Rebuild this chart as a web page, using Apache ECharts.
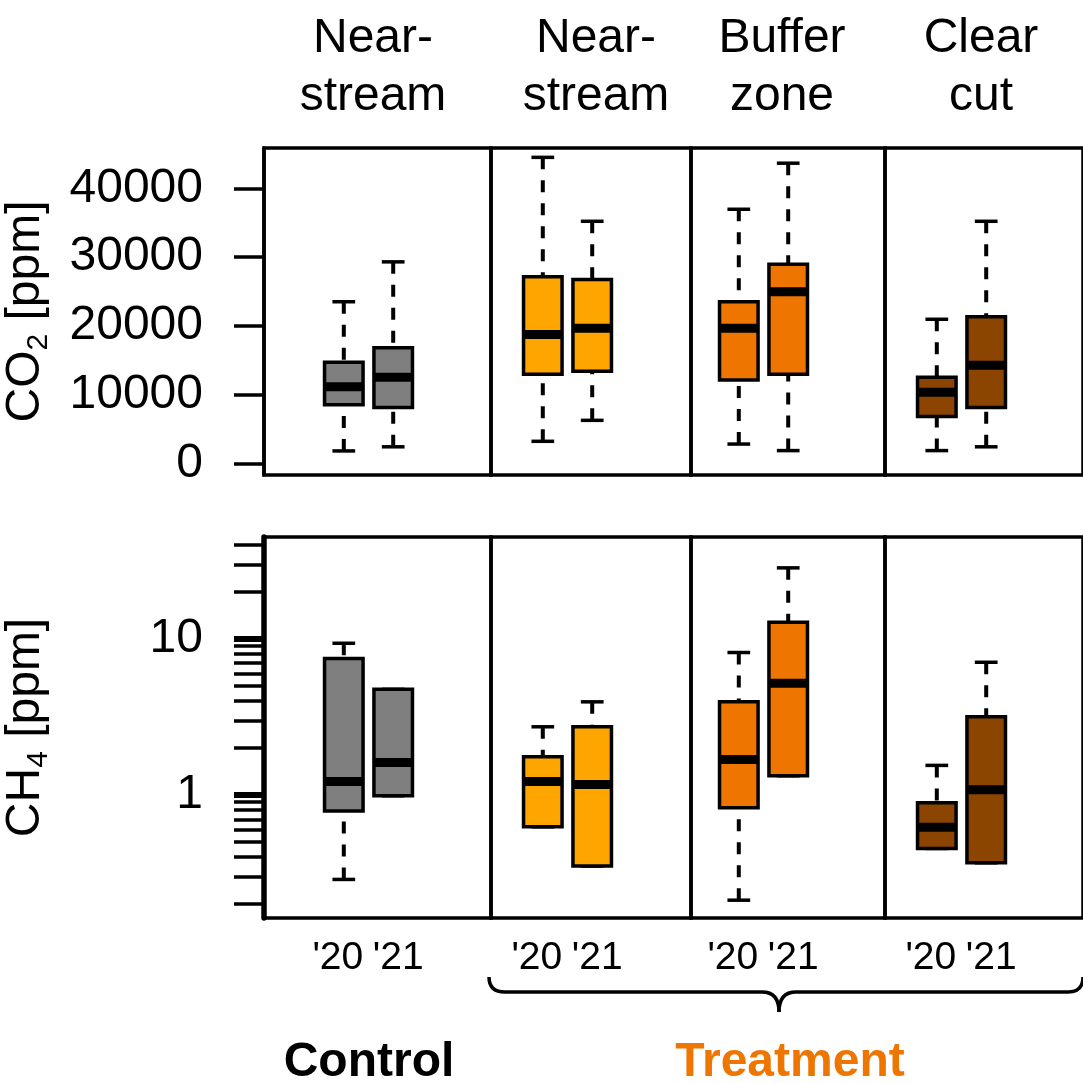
<!DOCTYPE html>
<html><head><meta charset="utf-8">
<script src="https://cdn.jsdelivr.net/npm/echarts@6/dist/echarts.min.js"></script>
<style>html,body{margin:0;padding:0;background:#fff}#c{width:1083px;height:1083px}</style>
</head><body><div id="c"></div>
<script>
// ---------- data ----------
const sites = ['Near-\nstream', 'Near-\nstream', 'Buffer\nzone', 'Clear\ncut'];
const years = ["'20", "'21"];
const groups = ['Control', 'Treatment'];
// each entry: [min, Q1, median, Q3, max] for '20 and '21
const co2ControlNS = [[1800, 8500, 11150, 14700, 23500], [2400, 8100, 12500, 16800, 29300]];
const co2TreatNS   = [[3200, 12950, 18750, 27150, 44500], [6250, 13400, 19650, 26750, 35200]];
const co2Buffer    = [[2800, 12100, 19650, 23500, 36950], [1850, 12950, 24950, 28950, 43650]];
const co2ClearCut  = [[1850, 6800, 10350, 12500, 20950], [2400, 8100, 14250, 21300, 35200]];
const ch4ControlNS = [[0.288, 0.79, 1.22, 7.5, 9.4], [0.99, 0.99, 1.62, 4.76, 4.76]];
const ch4TreatNS   = [[0.626, 0.626, 1.22, 1.76, 2.74], [0.351, 0.351, 1.17, 2.74, 3.96]];
const ch4Buffer    = [[0.212, 0.83, 1.69, 3.96, 8.2], [1.33, 1.33, 5.2, 12.8, 28.6]];
const ch4ClearCut  = [[0.455, 0.455, 0.621, 0.893, 1.55], [0.368, 0.368, 1.08, 3.18, 7.1]];
const co2TickValues = [0, 10000, 20000, 30000, 40000];
const ch4LabelValues = [1, 10];
const ch4TickValues = [0.2, 0.3, 0.4, 0.5, 0.6, 0.7, 0.8, 0.9, 1, 2, 3, 4, 5, 6, 7, 8, 9, 10, 20, 30, 40];

// ---------- styles / layout ----------
const siteColors = ['#7F7F7F', '#FFA500', '#EE7600', '#8B4500'];
const FONT = 'Liberation Sans, Arial, sans-serif';
const frameX = [264, 491, 691, 885, 1095];
const pairCenter = [368.5, 567.5, 763.5, 961.5];
const slot = 49.4;
const titleX = [373, 596, 782, 981];

const rows = [
  { top: 148, height: 327, data: [co2ControlNS, co2TreatNS, co2Buffer, co2ClearCut],
    y: { type: 'value', min: -1700, max: 45860 }, ticks: co2TickValues, labels: co2TickValues,
    name: '{a|CO}{s|2}{a| [ppm]}', axisW: 3.5 },
  { top: 537, height: 381, data: [ch4ControlNS, ch4TreatNS, ch4Buffer, ch4ClearCut],
    y: { type: 'log', logBase: 10, min: 0.163, max: 45.1 }, ticks: ch4TickValues, labels: ch4LabelValues,
    name: '{a|CH}{s|4}{a| [ppm]}', axisW: 5.5 }
];

function renderBox(color) {
  return function (params, api) {
    const x = api.value(0);
    const p = [1, 2, 3, 4, 5].map(d => api.coord([x, api.value(d)]));
    const cx = p[0][0];
    const band = api.size([1, 0])[0];
    const bw = band * 0.78, cw = band * 0.46;
    const yMin = p[0][1], yQ1 = p[1][1], yMed = p[2][1], yQ3 = p[3][1], yMax = p[4][1];
    const dash = { stroke: '#000', lineWidth: 4, lineDash: [12, 11], fill: null };
    const solid = { stroke: '#000', lineWidth: 3.5, fill: null };
    return {
      type: 'group',
      children: [
        { type: 'line', shape: { x1: cx, y1: yMax, x2: cx, y2: yQ3 }, style: dash },
        { type: 'line', shape: { x1: cx, y1: yMin, x2: cx, y2: yQ1 }, style: dash },
        { type: 'line', shape: { x1: cx - cw / 2, y1: yMax, x2: cx + cw / 2, y2: yMax }, style: solid },
        { type: 'line', shape: { x1: cx - cw / 2, y1: yMin, x2: cx + cw / 2, y2: yMin }, style: solid },
        { type: 'rect', shape: { x: cx - bw / 2, y: yQ3, width: bw, height: yQ1 - yQ3 },
          style: { fill: color, stroke: '#000', lineWidth: 3.5 } },
        { type: 'line', shape: { x1: cx - bw / 2, y1: yMed, x2: cx + bw / 2, y2: yMed },
          style: { stroke: '#000', lineWidth: 9 } }
      ]
    };
  };
}

const option = { animation: false, backgroundColor: '#fff', grid: [], xAxis: [], yAxis: [], series: [], graphic: [] };
const majorTickAxes = [];

rows.forEach((row, r) => {
  for (let p = 0; p < 4; p++) {
    const gFrame = option.grid.length;
    option.grid.push({ left: frameX[p], width: frameX[p + 1] - frameX[p], top: row.top, height: row.height,
      show: true, borderColor: '#000', borderWidth: 3.5, backgroundColor: 'transparent' });
    option.xAxis.push({ gridIndex: gFrame, type: 'value', show: false, min: 0, max: 1 });
    const yFrame = Object.assign({ gridIndex: gFrame, position: 'left', show: p === 0, splitLine: { show: false } }, row.y);
    if (p === 0) {
      Object.assign(yFrame, {
        axisLine: { show: true, lineStyle: { color: '#000', width: row.axisW } },
        axisTick: { show: true, inside: false, length: 30, lineStyle: { color: '#000', width: 3.5 }, customValues: row.ticks },
        axisLabel: { show: true, margin: 61, color: '#000', fontSize: 48, fontFamily: FONT, customValues: row.labels,
          formatter: v => String(v) },
        minorTick: { show: false },
        name: row.name, nameLocation: 'middle', nameGap: 210,
        nameTextStyle: { color: '#000', fontFamily: FONT,
          rich: { a: { fontSize: 48, lineHeight: 56, fontFamily: FONT, color: '#000' },
                  s: { fontSize: 30, lineHeight: 24, verticalAlign: 'bottom', fontFamily: FONT, color: '#000' } } }
      });
      if (row.y.type === 'log') {
        // heavier ticks at the labelled decades
        majorTickAxes.push(Object.assign({ gridIndex: gFrame, position: 'left', offset: 0, show: true,
          splitLine: { show: false }, axisLine: { show: false }, axisLabel: { show: false },
          axisTick: { show: true, length: 30, lineStyle: { color: '#000', width: 6 }, customValues: row.labels } }, row.y));
      }
    }
    option.yAxis.push(yFrame);
  }
  for (let p = 0; p < 4; p++) {
    const gBox = option.grid.length;
    option.grid.push({ left: pairCenter[p] - slot, width: 2 * slot, top: row.top, height: row.height, show: false });
    option.xAxis.push({ gridIndex: gBox, type: 'category', data: years,
      axisLine: { show: false }, axisTick: { show: false }, splitLine: { show: false },
      axisLabel: { show: r === 1, interval: 0, margin: 21, color: '#000', fontSize: 39, fontFamily: FONT,
        formatter: v => (v === years[0] ? '{a|' + v + '}' : '{b|' + v + '}'),
        rich: { a: { fontSize: 39, fontFamily: FONT, color: '#000', padding: [0, 12, 0, 0] },
                b: { fontSize: 39, fontFamily: FONT, color: '#000', padding: [0, 0, 0, 10] } } } });
    option.yAxis.push(Object.assign({ gridIndex: gBox, show: false, splitLine: { show: false } }, row.y));
    option.series.push({
      type: 'custom', xAxisIndex: option.xAxis.length - 1, yAxisIndex: option.yAxis.length - 1,
      renderItem: renderBox(siteColors[p]), clip: false,
      dimensions: ['year', 'min', 'q1', 'median', 'q3', 'max'],
      encode: { x: 0, y: [1, 2, 3, 4, 5] },
      data: years.map((yr, i) => [yr].concat(row.data[p][i]))
    });
  }
});
majorTickAxes.forEach(a => option.yAxis.push(a));

// site titles
sites.forEach((s, p) => {
  option.graphic.push({ type: 'text', x: titleX[p], y: 10,
    style: { text: s, fill: '#000', font: '48px ' + FONT, align: 'center', verticalAlign: 'top', lineHeight: 57.6 } });
});
// group labels
option.graphic.push({ type: 'text', x: 369, y: 1063,
  style: { text: groups[0], fill: '#000', font: 'bold 48px ' + FONT, align: 'center', verticalAlign: 'middle' } });
option.graphic.push({ type: 'text', x: 790, y: 1063,
  style: { text: groups[1], fill: '#EE7600', font: 'bold 48px ' + FONT, align: 'center', verticalAlign: 'middle' } });
// curly bracket under the treatment sites
const br = { stroke: '#000', lineWidth: 3.5, fill: null };
option.graphic.push({ type: 'group', children: [
  { type: 'bezierCurve', shape: { x1: 489, y1: 977, cpx1: 489, cpy1: 992, x2: 505, y2: 992 }, style: br },
  { type: 'line', shape: { x1: 505, y1: 992, x2: 762, y2: 992 }, style: br },
  { type: 'bezierCurve', shape: { x1: 762, y1: 992, cpx1: 779, cpy1: 992, x2: 779, y2: 1012 }, style: br },
  { type: 'bezierCurve', shape: { x1: 779, y1: 1012, cpx1: 779, cpy1: 992, x2: 796, y2: 992 }, style: br },
  { type: 'line', shape: { x1: 796, y1: 992, x2: 1068, y2: 992 }, style: br },
  { type: 'bezierCurve', shape: { x1: 1068, y1: 992, cpx1: 1083, cpy1: 992, x2: 1083, y2: 977 }, style: br }
] });

const chart = echarts.init(document.getElementById('c'), null, { renderer: 'canvas' });
chart.setOption(option);
</script></body></html>
